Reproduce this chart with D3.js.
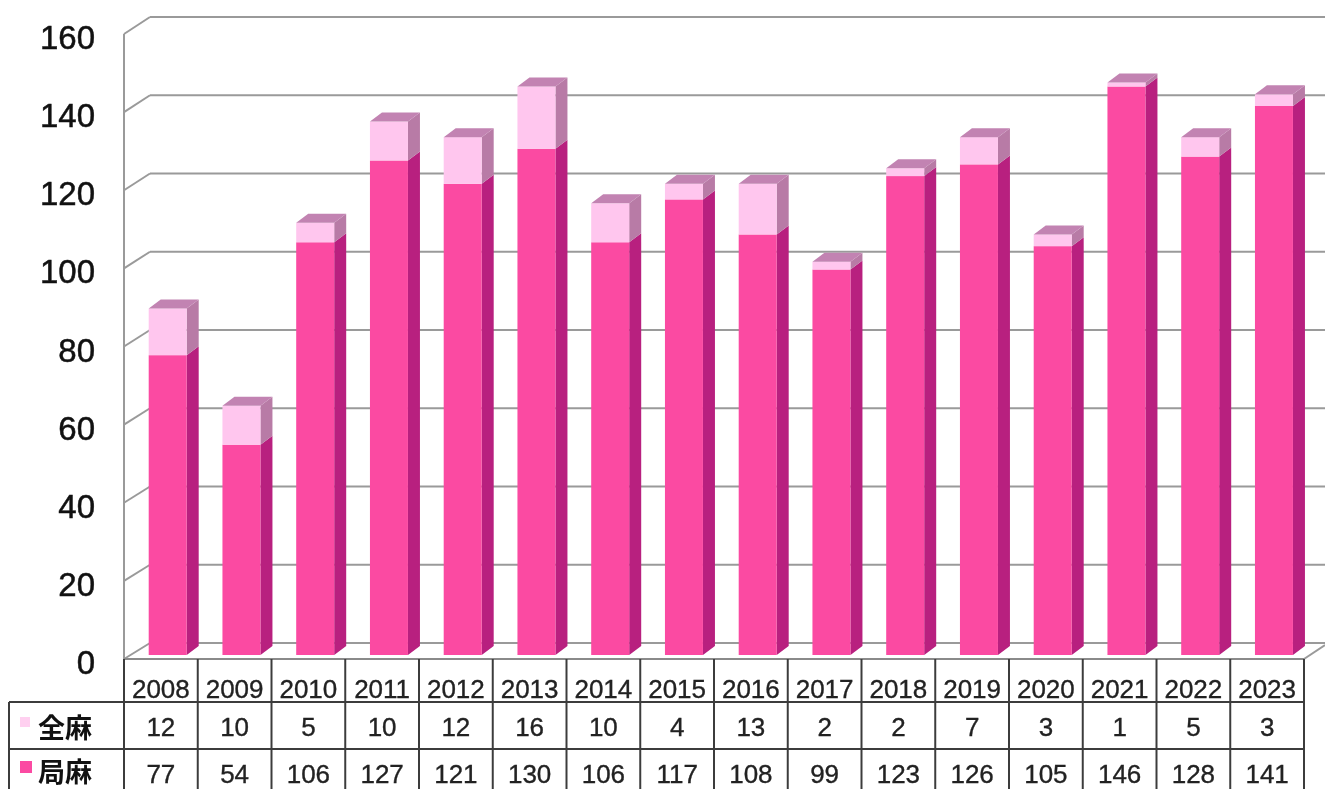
<!DOCTYPE html>
<html>
<head>
<meta charset="utf-8">
<script src="https://cdn.jsdelivr.net/npm/d3@7"></script>
<style>
body { margin: 0; background: #fff; }
svg { display: block; filter: blur(0.45px); }
</style>
</head>
<body>
<div id="chart"></div>
<script>
var years = ['2008', '2009', '2010', '2011', '2012', '2013', '2014', '2015', '2016', '2017', '2018', '2019', '2020', '2021', '2022', '2023'];
var data_全麻 = [12, 10, 5, 10, 12, 16, 10, 4, 13, 2, 2, 7, 3, 1, 5, 3];
var data_局麻 = [77, 54, 106, 127, 121, 130, 106, 117, 108, 99, 123, 126, 105, 146, 128, 141];
var yTicks = [0, 20, 40, 60, 80, 100, 120, 140, 160];

var colorFront = ['#fb4aa2', '#ffc6ee'];
var colorSide = ['#b8207f', '#b87ba6'];
var colorTop = '#c283b2';
var gridColor = '#9a9a9a';
var tableColor = '#3c3c3c';
var latin = '"Liberation Sans", Arial, sans-serif';
var cjk = '"Noto Sans CJK JP", sans-serif';

var svg = d3.select('#chart').append('svg')
    .attr('width', 1325)
    .attr('height', 789);

var x = d3.scaleBand().domain(years).range([124, 1304]);
var yFront = d3.scaleLinear().domain([0, 160]).range([659, 34]); // left edge of the wall
var yBack = d3.scaleLinear().domain([0, 160]).range([643, 17]);  // back wall
var yBar = d3.scaleLinear().domain([0, 160]).range([655, 32]);   // bar front face
var yLabel = d3.scaleLinear().domain([0, 160]).range([663, 38]);

// 3d offsets
var wallX = 26, barW = 38, barOffset = 24.7, depthX = 12, depthY = 9;

// walls and grid
yTicks.forEach(function(t) {
    svg.append('line')
        .attr('x1', 124).attr('y1', yFront(t))
        .attr('x2', 124 + wallX).attr('y2', yBack(t))
        .style('stroke', gridColor).style('stroke-width', 2);
    svg.append('line')
        .attr('x1', 124 + wallX).attr('y1', yBack(t))
        .attr('x2', 1325).attr('y2', yBack(t))
        .style('stroke', gridColor).style('stroke-width', 2);
});
svg.append('line')
    .attr('x1', 124).attr('y1', yFront(160))
    .attr('x2', 124).attr('y2', yFront(0))
    .style('stroke', gridColor).style('stroke-width', 2);
svg.append('line')
    .attr('x1', 1304).attr('y1', yFront(0))
    .attr('x2', 1325).attr('y2', yFront(0) - 14)
    .style('stroke', gridColor).style('stroke-width', 2);

// y axis labels
var axis = svg.append('g')
    .attr('transform', 'translate(95,0)')
    .call(d3.axisLeft(yLabel).tickValues(yTicks).tickSize(0).tickPadding(0));
axis.select('.domain').remove();
axis.selectAll('text')
    .style('font-family', latin)
    .style('font-size', '33px')
    .style('stroke', '#111')
    .style('stroke-width', 0.5)
    .attr('fill', '#111');

// stacked bars
var rows = years.map(function(d, i) {
    return { year: d, local: data_局麻[i], general: data_全麻[i] };
});
var stacked = d3.stack().keys(['local', 'general'])(rows);

stacked.forEach(function(layer, s) {
    layer.forEach(function(d) {
        var left = x(d.data.year) + barOffset;
        var right = left + barW;
        var y0 = yBar(d[0]), y1 = yBar(d[1]);
        svg.append('path')
            .attr('d', 'M' + right + ',' + y0 + 'L' + (right + depthX) + ',' + (y0 - depthY) +
                'L' + (right + depthX) + ',' + (y1 - depthY) + 'L' + right + ',' + y1 + 'Z')
            .attr('fill', colorSide[s]);
        svg.append('rect')
            .attr('x', left)
            .attr('y', y1)
            .attr('width', barW)
            .attr('height', y0 - y1)
            .attr('fill', colorFront[s]);
        if (s == 1) {
            svg.append('path')
                .attr('d', 'M' + left + ',' + y1 + 'L' + (left + depthX) + ',' + (y1 - depthY) +
                    'L' + (right + depthX) + ',' + (y1 - depthY) + 'L' + right + ',' + y1 + 'Z')
                .attr('fill', colorTop);
        }
    });
});

// data table
var rowLines = [702, 749];
var colLines = x.domain().map(function(d) { return x(d); }).concat([1304]);

svg.append('line')
    .attr('x1', 124).attr('y1', 659).attr('x2', 1304).attr('y2', 659)
    .style('stroke', '#8a8a8a').style('stroke-width', 2);
rowLines.forEach(function(y) {
    svg.append('line')
        .attr('x1', 9).attr('y1', y).attr('x2', 1304).attr('y2', y)
        .style('stroke', tableColor).style('stroke-width', 2);
});
colLines.forEach(function(cx) {
    svg.append('line')
        .attr('x1', cx).attr('y1', 659).attr('x2', cx).attr('y2', 789)
        .style('stroke', tableColor).style('stroke-width', 2);
});
svg.append('line')
    .attr('x1', 9).attr('y1', 702).attr('x2', 9).attr('y2', 789)
    .style('stroke', tableColor).style('stroke-width', 2);

function cellText(values, baseline) {
    svg.selectAll(null).data(values).enter().append('text')
        .attr('x', function(d, i) { return x(years[i]) + x.bandwidth() / 2; })
        .attr('y', baseline)
        .attr('text-anchor', 'middle')
        .style('font-family', latin)
        .style('font-size', '26px')
        .style('stroke', '#222')
        .style('stroke-width', 0.35)
        .attr('fill', '#222')
        .text(function(d) { return d; });
}
cellText(years, 698);
cellText(data_全麻, 736);
cellText(data_局麻, 783);

// row headers with legend keys
var seriesNames = ['全麻', '局麻'];
var headerY = [738, 782];
var keyY = [717, 761];
var keySize = [10, 12];
var keyColor = ['#ffd0f0', '#fb4aa2'];
seriesNames.forEach(function(name, i) {
    svg.append('rect')
        .attr('x', 20).attr('y', keyY[i])
        .attr('width', keySize[i]).attr('height', keySize[i])
        .attr('fill', keyColor[i]);
    svg.append('text')
        .attr('x', 38).attr('y', headerY[i])
        .text(name)
        .style('font-family', cjk)
        .style('font-weight', 'bold')
        .style('font-size', '27px')
        .attr('fill', '#111');
});
</script>
</body>
</html>
